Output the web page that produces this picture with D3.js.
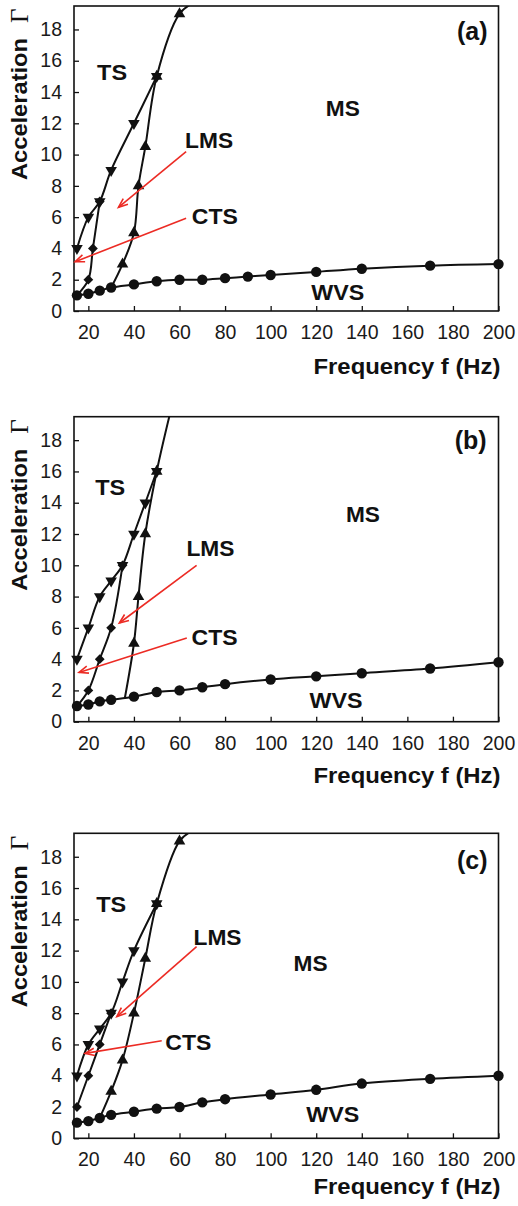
<!DOCTYPE html>
<html><head><meta charset="utf-8">
<script src="https://cdn.jsdelivr.net/npm/d3@7"></script>
<style>body{margin:0;background:#fff}svg{display:block}</style>
</head><body>
<svg id="chart" width="518" height="1206"></svg>
<script>
// ---------- data ----------
const xTicks = [20, 40, 60, 80, 100, 120, 140, 160, 180, 200];
const yTicks = [0, 2, 4, 6, 8, 10, 12, 14, 16, 18];
const panelTags = ["(a)", "(b)", "(c)"];
const regionNames = ["TS", "LMS", "CTS", "MS", "WVS"];
const xTitle = "Frequency f (Hz)";
const yTitle = "Acceleration";
const yTitleSymbol = "Γ";

// panel (a)
const wvsA = [[15,1.0],[20,1.1],[25,1.3],[30,1.5],[40,1.7],[50,1.9],[60,2.0],[70,2.0],[80,2.1],[90,2.2],[100,2.3],[120,2.5],[140,2.7],[170,2.9],[200,3.0]];
const tsA  = [[15,4],[20,6],[25,7],[30,9],[40,12],[50,15]];
const ctsA = [[15,1.0],[20,2],[22,4],[25,7]];
const lmsA = [[30,1.5],[35,3],[40,5],[42,8],[45,10.5],[50,15],[60,19],[66,19.7]];
// panel (b)
const wvsB = [[15,1.0],[20,1.1],[25,1.3],[30,1.4],[40,1.6],[50,1.9],[60,2.0],[70,2.2],[80,2.4],[100,2.7],[120,2.9],[140,3.1],[170,3.4],[200,3.8]];
const tsB  = [[15,4],[20,6],[25,8],[30,9],[35,10],[40,12],[45,14],[50,16]];
const ctsB = [[15,1.0],[20,2],[25,4],[30,6],[35,10]];
const lmsB = [[36,1.5],[40,5],[42,8],[45,12],[50,16],[56,19.8]];
// panel (c)
const wvsC = [[15,1.0],[20,1.1],[25,1.3],[30,1.5],[40,1.7],[50,1.9],[60,2.0],[70,2.3],[80,2.5],[100,2.8],[120,3.1],[140,3.5],[170,3.8],[200,4.0]];
const tsC  = [[15,4],[20,6],[25,7],[30,8],[35,10],[40,12],[50,15]];
const ctsC = [[15,2],[20,4],[25,6],[30,8]];
const lmsC = [[25,1.3],[30,3],[35,5],[40,8],[45,11.5],[50,15],[60,19],[66,19.7]];

// annotation anchors (data units: frequency, acceleration), order = regionNames
const labelsA = [[30.4,15.3],[73,10.9],[75.5,6.07],[131.7,13.0],[129.5,1.18]];
const labelsB = [[29.6,15.0],[73.6,11.07],[75.4,5.4],[140.5,13.3],[128.7,1.37]];
const labelsC = [[30,14.98],[76.7,12.87],[63.9,6.12],[117.5,11.2],[127.3,1.55]];
const tagPos = [[188.5,17.9],[187.8,18.0],[188.5,17.8]];
// arrows [from, to] : LMS arrow, CTS arrow
const arrowsA = [[[62.9,10.19],[33.2,6.63]], [[62.9,5.93],[14.2,3.15]]];
const arrowsB = [[[67.5,10.0],[33.6,6.31]], [[63.2,5.35],[15.9,3.15]]];
const arrowsC = [[[67.5,12.25],[32.5,7.78]], [[52.2,6.24],[18.6,5.43]]];

// ---------- layout ----------
const svg = d3.select("#chart");
const panels = [
  {top: 6,     wvs: wvsA, ts: tsA, cts: ctsA, lms: lmsA, labels: labelsA, arrows: arrowsA, xtOff: 63},
  {top: 416.7, wvs: wvsB, ts: tsB, cts: ctsB, lms: lmsB, labels: labelsB, arrows: arrowsB, xtOff: 61},
  {top: 833.3, wvs: wvsC, ts: tsC, cts: ctsC, lms: lmsC, labels: labelsC, arrows: arrowsC, xtOff: 56}
];
const plotL = 74, plotR = 498.5, plotH = 305;
const xDomain = [13.7, 200], yDomain = [0, 19.5];
const ink = "#111";
const red = "#ec2b24";
const sans = "Liberation Sans, Arial, sans-serif";

const defs = svg.append("defs");

panels.forEach((p, i) => {
  const x = d3.scaleLinear().domain(xDomain).range([plotL, plotR]);
  const y = d3.scaleLinear().domain(yDomain).range([p.top + plotH, p.top]);
  const g = svg.append("g");
  const clipId = "clip" + i;
  defs.append("clipPath").attr("id", clipId).append("rect")
    .attr("x", plotL - 6).attr("y", p.top).attr("width", plotR - plotL + 12).attr("height", plotH + 6);

  // axes (ticks inside)
  const xAxis = d3.axisBottom(x).tickValues(xTicks).tickSize(-5).tickPadding(14).tickFormat(d3.format("d"));
  const yAxis = d3.axisLeft(y).tickValues(yTicks).tickSize(-5).tickPadding(12).tickFormat(d3.format("d"));
  const gx = g.append("g").attr("transform", `translate(0,${p.top + plotH})`).call(xAxis);
  const gy = g.append("g").attr("transform", `translate(${plotL},0)`).call(yAxis);
  [gx, gy].forEach(a => {
    a.select(".domain").remove();
    a.selectAll(".tick line").attr("stroke", ink).attr("stroke-width", 1.3);
    a.selectAll(".tick text").attr("fill", "#1a1a1a").attr("font-family", sans).attr("font-size", 19.5);
  });
  gx.selectAll(".tick text").attr("dy", "0.71em").attr("y", 14);

  // frame
  g.append("rect").attr("x", plotL).attr("y", p.top).attr("width", plotR - plotL).attr("height", plotH)
    .attr("fill", "none").attr("stroke", ink).attr("stroke-width", 1.6);

  // titles
  g.append("text").attr("x", plotR + 2).attr("y", p.top + plotH + p.xtOff)
    .attr("text-anchor", "end").attr("font-family", sans)
    .attr("font-weight", "bold").attr("font-size", 21.5).attr("fill", ink)
    .attr("textLength", 187).attr("lengthAdjust", "spacingAndGlyphs").text(xTitle);
  const yt = g.append("g").attr("transform", `translate(27,${p.top + 174}) rotate(-90)`);
  yt.append("text").attr("x", 0).attr("y", 0).attr("font-family", sans)
    .attr("font-weight", "bold").attr("font-size", 21.5).attr("fill", ink)
    .attr("textLength", 142).attr("lengthAdjust", "spacingAndGlyphs").text(yTitle);
  yt.append("text").attr("x", 157).attr("y", 1).attr("font-family", "Liberation Serif, Times New Roman, serif")
    .attr("font-size", 25).attr("fill", ink).text(yTitleSymbol);

  // curves
  const line = d3.line().x(d => x(d[0])).y(d => y(d[1])).curve(d3.curveCatmullRom.alpha(0.5));
  const cg = g.append("g").attr("clip-path", `url(#${clipId})`);
  const lg = cg.append("g").attr("clip-path", null);
  [p.wvs, p.ts, p.cts, p.lms].forEach(s => {
    lg.append("path").attr("d", line(s)).attr("fill", "none").attr("stroke", ink).attr("stroke-width", 2);
  });
  // clip the overshooting line ends exactly at the frame top
  defs.append("clipPath").attr("id", clipId + "l").append("rect")
    .attr("x", plotL).attr("y", p.top).attr("width", plotR - plotL).attr("height", plotH);
  lg.attr("clip-path", `url(#${clipId}l)`);

  // markers
  const inView = d => d[1] < yDomain[1] - 0.4;
  cg.selectAll(".wvs").data(p.wvs).join("circle")
    .attr("cx", d => x(d[0])).attr("cy", d => y(d[1])).attr("r", 5.2).attr("fill", ink);
  const tri = d3.symbol().type(d3.symbolTriangle).size(58);
  const dia = d3.symbol().type(d3.symbolSquare).size(48);
  const skipFirstCts = p.cts[0][1] === p.wvs[0][1] && p.cts[0][0] === p.wvs[0][0];
  cg.selectAll(".ts").data(p.ts).join("path").attr("d", tri)
    .attr("transform", d => `translate(${x(d[0])},${y(d[1])}) rotate(180)`).attr("fill", ink);
  cg.selectAll(".lms").data(p.lms.slice(1).filter(inView)).join("path").attr("d", tri)
    .attr("transform", d => `translate(${x(d[0])},${y(d[1])})`).attr("fill", ink);
  cg.selectAll(".cts").data(skipFirstCts ? p.cts.slice(1) : p.cts).join("path").attr("d", dia)
    .attr("transform", d => `translate(${x(d[0])},${y(d[1])}) rotate(45)`).attr("fill", ink);

  // region labels
  g.selectAll(".lbl").data(p.labels).join("text")
    .attr("x", d => x(d[0])).attr("y", d => y(d[1])).attr("dy", "0.36em")
    .attr("text-anchor", "middle").attr("font-family", sans)
    .attr("font-weight", "bold").attr("font-size", 22).attr("fill", ink)
    .attr("textLength", (d, k) => [30, 48, 46, 34, 53][k]).attr("lengthAdjust", "spacingAndGlyphs")
    .text((d, k) => regionNames[k]);
  g.append("text").attr("x", x(tagPos[i][0])).attr("y", y(tagPos[i][1])).attr("dy", "0.36em")
    .attr("text-anchor", "middle").attr("font-family", sans)
    .attr("font-weight", "bold").attr("font-size", 25).attr("fill", ink).text(panelTags[i]);

  // red arrows
  p.arrows.forEach(a => {
    const x1 = x(a[0][0]), y1 = y(a[0][1]), x2 = x(a[1][0]), y2 = y(a[1][1]);
    const ang = Math.atan2(y2 - y1, x2 - x1);
    const L = 10, spread = 0.38;
    const hx1 = x2 - L * Math.cos(ang - spread), hy1 = y2 - L * Math.sin(ang - spread);
    const hx2 = x2 - L * Math.cos(ang + spread), hy2 = y2 - L * Math.sin(ang + spread);
    g.append("line").attr("x1", x1).attr("y1", y1).attr("x2", x2).attr("y2", y2)
      .attr("stroke", red).attr("stroke-width", 1.6);
    g.append("path").attr("d", `M${hx1},${hy1}L${x2},${y2}L${hx2},${hy2}`)
      .attr("fill", "none").attr("stroke", red).attr("stroke-width", 1.6);
  });
});
</script>
</body></html>
